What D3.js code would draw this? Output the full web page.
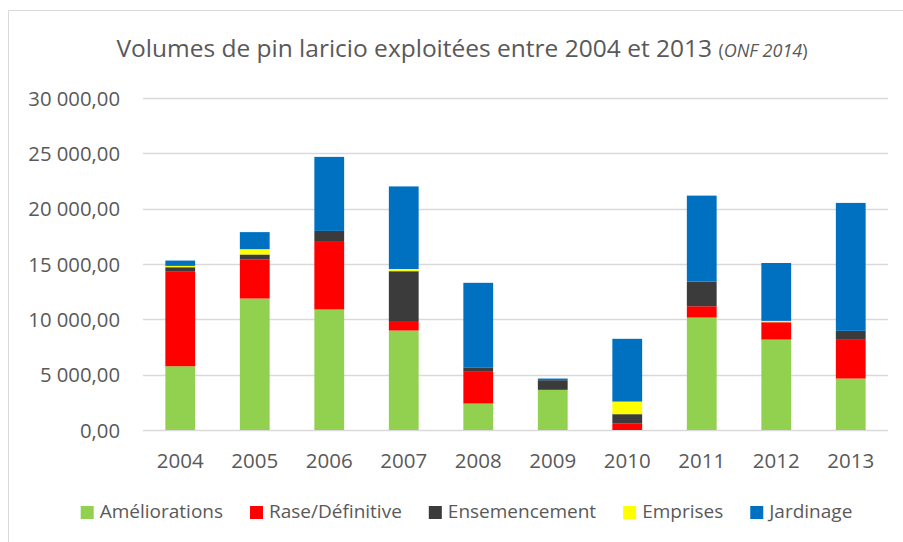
<!DOCTYPE html>
<html>
<head>
<meta charset="utf-8">
<script src="https://cdn.jsdelivr.net/npm/d3@7"></script>
<style>
  html, body { margin: 0; padding: 0; background: #fff; }
  svg { display: block; font-family: "Open Sans", sans-serif; }
</style>
</head>
<body>
<svg id="chart" width="903" height="542"></svg>
<script>
const years = ["2004","2005","2006","2007","2008","2009","2010","2011","2012","2013"];
const seriesNames = ["Améliorations","Rase/Définitive","Ensemencement","Emprises","Jardinage"];
const seriesColors = ["#92D050","#FF0000","#3B3B3B","#FFFF00","#0070C0"];
const ameliorations = [5760, 11880, 10890, 8990, 2390, 3630, 0, 10160, 8170, 4650];
const raseDefinitive = [8590, 3550, 6110, 780, 2870, 0, 610, 1020, 1570, 3500];
const ensemencement = [360, 430, 990, 4580, 360, 870, 820, 2230, 0, 810];
const emprises = [120, 480, 0, 200, 0, 0, 1140, 0, 120, 0];
const jardinage = [480, 1540, 6690, 7460, 7680, 150, 5670, 7770, 5230, 11560];
const yTicks = [0, 5000, 10000, 15000, 20000, 25000, 30000];

const seriesValues = [ameliorations, raseDefinitive, ensemencement, emprises, jardinage];
const keys = ["s0","s1","s2","s3","s4"];
const rows = years.map((yr, i) => {
  const r = { year: yr };
  keys.forEach((k, j) => r[k] = seriesValues[j][i]);
  return r;
});

const svg = d3.select("#chart");
const textColor = "#595959";

// outer chart border
svg.append("path")
  .attr("d", "M8.5,545 V10.5 H905")
  .attr("fill", "none").attr("stroke", "#D9D9D9").attr("stroke-width", 1);

const plotLeft = 143, plotRight = 888, plotTop = 98, plotBottom = 430;

const x = d3.scaleBand().domain(years).range([plotLeft, plotRight]).paddingInner(0.6).paddingOuter(0.3);
const y = d3.scaleLinear().domain([0, 30000]).range([plotBottom, plotTop]);

// gridlines
svg.append("g").selectAll("line").data(yTicks).join("line")
  .attr("x1", plotLeft).attr("x2", plotRight)
  .attr("y1", d => Math.round(y(d)) + 0.5).attr("y2", d => Math.round(y(d)) + 0.5)
  .attr("stroke", "#D9D9D9").attr("stroke-width", 1.5);

// y-axis labels via d3 axis
const fmt = d => d3.format(",.2f")(d).replace(/,/g, " ").replace(".", ",");
const yAxis = svg.append("g").attr("transform", `translate(${plotLeft - 23},0)`)
  .call(d3.axisLeft(y).tickValues(yTicks).tickFormat(fmt).tickSize(0).tickPadding(0));
yAxis.select(".domain").remove();
yAxis.selectAll("text").attr("fill", textColor).attr("font-size", 20.3)
  .attr("font-family", "'Open Sans', sans-serif").attr("dy", "0.36em");

// x-axis labels
const xAxis = svg.append("g").attr("transform", `translate(0,${plotBottom})`)
  .call(d3.axisBottom(x).tickSize(0).tickPadding(23));
xAxis.select(".domain").remove();
xAxis.selectAll("text").attr("fill", textColor).attr("font-size", 20.5)
  .attr("font-family", "'Open Sans', sans-serif");

// stacked bars
const stack = d3.stack().keys(keys)(rows);
svg.append("g").selectAll("g").data(stack).join("g")
  .attr("fill", (d, i) => seriesColors[i])
  .selectAll("rect").data(d => d).join("rect")
  .attr("x", d => x(d.data.year))
  .attr("width", x.bandwidth())
  .attr("y", d => y(d[1]))
  .attr("height", d => Math.max(0, y(d[0]) - y(d[1])));

// title
const title = svg.append("text").attr("x", 462).attr("y", 57)
  .attr("text-anchor", "middle").attr("fill", textColor)
  .attr("font-family", "'Open Sans', sans-serif");
title.append("tspan").attr("font-size", 24.5).text("Volumes de pin laricio exploitées entre 2004 et 2013 ");
title.append("tspan").attr("font-size", 18).text("(");
title.append("tspan").attr("font-size", 18).attr("font-style", "italic").text("ONF 2014");
title.append("tspan").attr("font-size", 18).text(")");

// legend
const legend = svg.append("g");
let lx = 0;
seriesNames.forEach((name, i) => {
  const g = legend.append("g");
  g.append("rect").attr("x", lx).attr("y", -12).attr("width", 13).attr("height", 13)
    .attr("fill", seriesColors[i]);
  const t = g.append("text").attr("x", lx + 19).attr("y", 0)
    .attr("fill", textColor).attr("font-size", 19)
    .attr("font-family", "'Open Sans', sans-serif").text(name);
  const w = t.node().getComputedTextLength();
  lx += 19 + w + 27;
});
const totalW = lx - 27;
legend.attr("transform", `translate(${(81 + 852) / 2 - totalW / 2},518)`);
</script>
</body>
</html>
